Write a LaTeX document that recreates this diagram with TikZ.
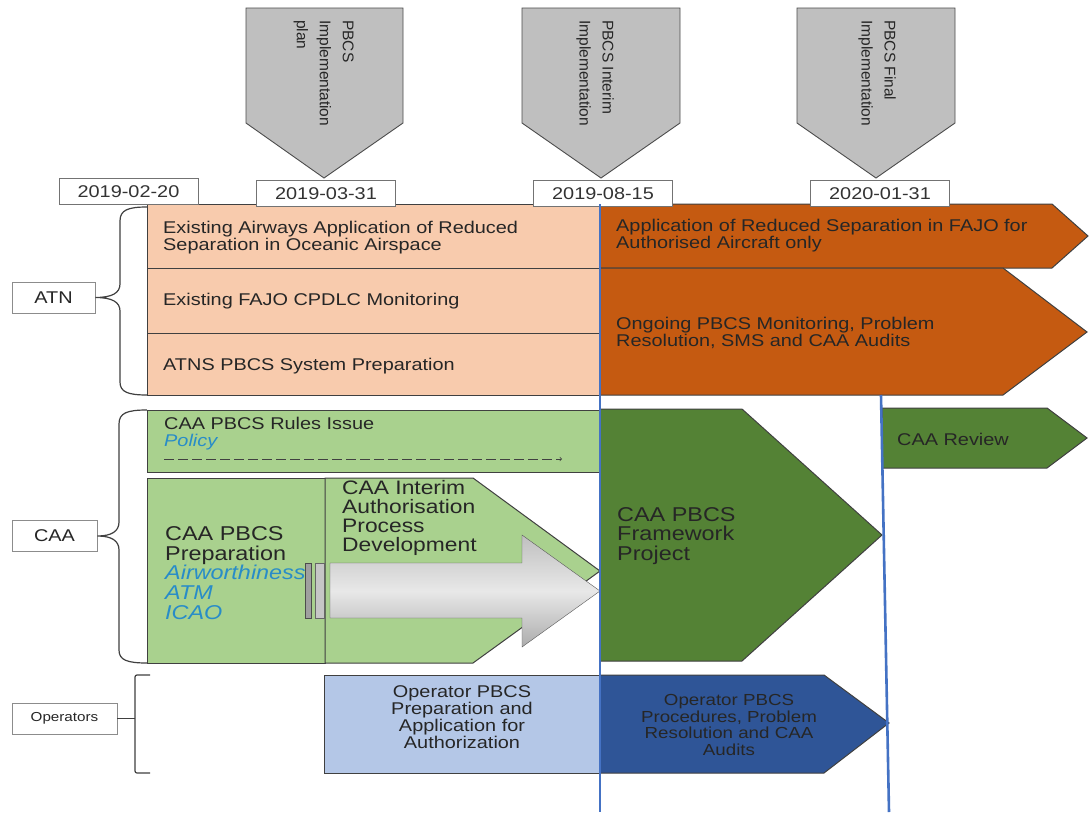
\documentclass[tikz,border=0pt]{standalone}
\usepackage{fontspec}
\setmainfont{Liberation Sans}[FakeStretch=1.17]
\newfontfamily\plainsans{Liberation Sans}
\usepackage{tikz}
\usetikzlibrary{shapes.geometric, arrows, positioning}
\setlength{\lineskiplimit}{-50pt}

\begin{document}
\begin{tikzpicture}[x=1pt, y=-1pt, line join=miter,
    txt/.style={inner sep=0pt, text=black!85, align=left, anchor=west, font=\fontsize{17}{17}\selectfont},
    bigtxt/.style={txt, font=\fontsize{20}{19.7}\selectfont},
    datebox/.style={draw=black!55, fill=white, line width=0.8pt, minimum width=139pt, minimum height=26pt, inner sep=0pt, text=black!80, font=\fontsize{17}{17}\selectfont},
    groupbox/.style={draw=black!45, fill=white, line width=0.8pt, minimum height=31pt, inner sep=0pt, text=black!85, font=\fontsize{17}{17}\selectfont},
    msshape/.style={draw=black!70, fill=msgray, line width=0.9pt},
    mstxt/.style={rotate=-90, anchor=north west, inner sep=0pt, align=left, text=black!85, font=\plainsans\fontsize{15.5}{23}\selectfont},
    frm/.style={draw=black!75, line width=1pt},
    brc/.style={draw=black!75, line width=1.2pt},
    bluebar/.style={draw=lineblue, line width=2.6pt},
    policyline/.style={->, draw=black!75, line width=0.7pt, dash pattern=on 10pt off 4pt}
]
    % Colours
    \definecolor{peach}{RGB}{248,203,173}
    \definecolor{orangedk}{RGB}{197,90,17}
    \definecolor{greenlt}{RGB}{169,209,142}
    \definecolor{greendk}{RGB}{84,130,53}
    \definecolor{bluelt}{RGB}{180,199,231}
    \definecolor{bluedk}{RGB}{47,85,151}
    \definecolor{lineblue}{RGB}{68,114,196}
    \definecolor{msgray}{RGB}{191,191,191}
    \definecolor{policyblue}{RGB}{40,140,200}

    \path[use as bounding box, fill=white] (0,0) rectangle (1090,814);

    % Milestones
    \draw[msshape] (246,8) -- (403,8) -- (403,123) -- (324,178) -- (246,123) -- cycle;
    \draw[msshape] (522,8) -- (680,8) -- (680,123) -- (601,178) -- (522,123) -- cycle;
    \draw[msshape] (797,8) -- (955,8) -- (955,123) -- (876,178) -- (797,123) -- cycle;
    \coordinate (ms1tip) at (326,178);
    \coordinate (ms2tip) at (603,178);
    \coordinate (ms3tip) at (880,178);
    \node[mstxt] (ms1) at (354,20) {PBCS\\Implementation\\plan};
    \node[mstxt] (ms2) at (614,20) {PBCS Interim\\Implementation};
    \node[mstxt] (ms3) at (896,20) {PBCS Final\\Implementation};

    % ATN rows
    \draw[frm, fill=peach] (147,204) rectangle (600,268);
    \draw[frm, fill=peach] (147,268) rectangle (600,333);
    \draw[frm, fill=peach] (147,333) rectangle (600,395);
    \draw[frm, fill=orangedk] (600,204) -- (1052,204) -- (1088,236) -- (1052,268) -- (600,268) -- cycle;
    \draw[frm, fill=orangedk] (600,268) -- (1003,268) -- (1087,332) -- (1003,395) -- (600,395) -- cycle;

    % Dates
    \node[datebox] (d0) at (128.5,191.5) {2019-02-20};
    \node[datebox, below=2pt of ms1tip] (d1) {2019-03-31};
    \node[datebox, below=2pt of ms2tip] (d2) {2019-08-15};
    \node[datebox, below=2pt of ms3tip] (d3) {2020-01-31};

    \node[txt] (r1) at (163,238) {Existing Airways Application of Reduced\\Separation in Oceanic Airspace};
    \node[txt] (r2) at (163,301) {Existing FAJO CPDLC Monitoring};
    \node[txt] (r3) at (163,366) {ATNS PBCS System Preparation};
    \node[txt] (o1) at (616,236) {Application of Reduced Separation in FAJO for\\Authorised Aircraft only};
    \node[txt] (o2) at (616,333) {Ongoing PBCS Monitoring, Problem\\Resolution, SMS and CAA Audits};

    % CAA rows
    \draw[frm, fill=greenlt] (147,410) rectangle (600,472);
    \draw[frm, fill=greenlt] (147,478) rectangle (325,663);
    \draw[frm, fill=greenlt] (325,478) -- (473,478) -- (600,571) -- (473,663) -- (325,663) -- cycle;
    \draw[frm, fill=greendk] (600,409) -- (742,409) -- (882,535) -- (742,661) -- (600,661) -- cycle;
    \draw[frm, fill=greendk] (882,408) -- (1047,408) -- (1087,438) -- (1047,468) -- (882,468) -- cycle;

    \node[txt] (rules) at (164,434) {CAA PBCS Rules Issue\\{\color{policyblue}\itshape Policy}};
    \coordinate (pol1) at (164,459);
    \coordinate (pol2) at (562,459);
    \draw[policyline] (pol1) -- (pol2);

    \node[bigtxt] (prep) at (165,573) {CAA PBCS\\Preparation\\{\color{policyblue}\itshape Airworthiness}\\{\color{policyblue}\itshape ATM}\\{\color{policyblue}\itshape ICAO}};
    \node[bigtxt, font=\fontsize{19.5}{19}\selectfont] (interim) at (342,518) {CAA Interim\\Authorisation\\Process\\Development};
    \node[bigtxt] (frame) at (617,536) {CAA PBCS\\Framework\\Project};
    \node[txt] (review) at (897,439) {CAA Review};

    % Grey arrow
    \draw[draw=black!70, fill=gray!75] (305,563) rectangle (311,618);
    \draw[draw=black!60, fill=gray!45] (315,563) rectangle (324,618);
    \draw[draw=black!65, top color=gray!50, bottom color=gray!65, middle color=gray!18]
        (330,563) -- (522,563) -- (522,535) -- (600,591) -- (522,647) -- (522,618) -- (330,618) -- cycle;

    % Operators
    \draw[frm, fill=bluelt] (324,675) rectangle (600,773);
    \draw[frm, fill=bluedk] (600,675) -- (824,675) -- (889,723) -- (824,773) -- (600,773) -- cycle;
    \node[txt, align=center, anchor=center] (opprep) at (462,717) {Operator PBCS\\Preparation and\\Application for\\Authorization};
    \node[txt, align=center, anchor=center, font=\fontsize{16}{16.5}\selectfont] (opproc) at (729,725) {Operator PBCS\\Procedures, Problem\\Resolution and CAA\\Audits};

    % Timeline lines
    \draw[bluebar] (881,395) -- (889,812);
    \draw[bluebar] (600,204) -- (600,812);

    % Groups
    \node[groupbox, minimum width=83pt] (atn) at (53.5,297.5) {ATN};
    \node[groupbox, minimum width=85pt] (caa) at (54.5,536) {CAA};
    \node[groupbox, minimum width=105pt, font=\fontsize{13}{13}\selectfont] (ops) at (64.5,718.5) {Operators};

    \draw[brc] (147,207) .. controls (128,207) and (120,210) .. (120,221) -- (120,284)
        .. controls (120,293) and (112,297.5) .. (atn.east)
        .. controls (112,297.5) and (120,302) .. (120,311) -- (120,382)
        .. controls (120,392) and (128,395) .. (147,395);
    \draw[brc] (147,410) .. controls (127,410) and (119,413) .. (119,424) -- (119,522)
        .. controls (119,531) and (112,536) .. (caa.east)
        .. controls (112,536) and (119,541) .. (119,550) -- (119,650)
        .. controls (119,660) and (127,663) .. (147,663);
    \draw[brc, rounded corners=2pt] (150,675) -- (135,675) -- (135,773) -- (150,773);
    \draw[brc] (ops.east) -- (135,718.5);

\end{tikzpicture}
\end{document}
